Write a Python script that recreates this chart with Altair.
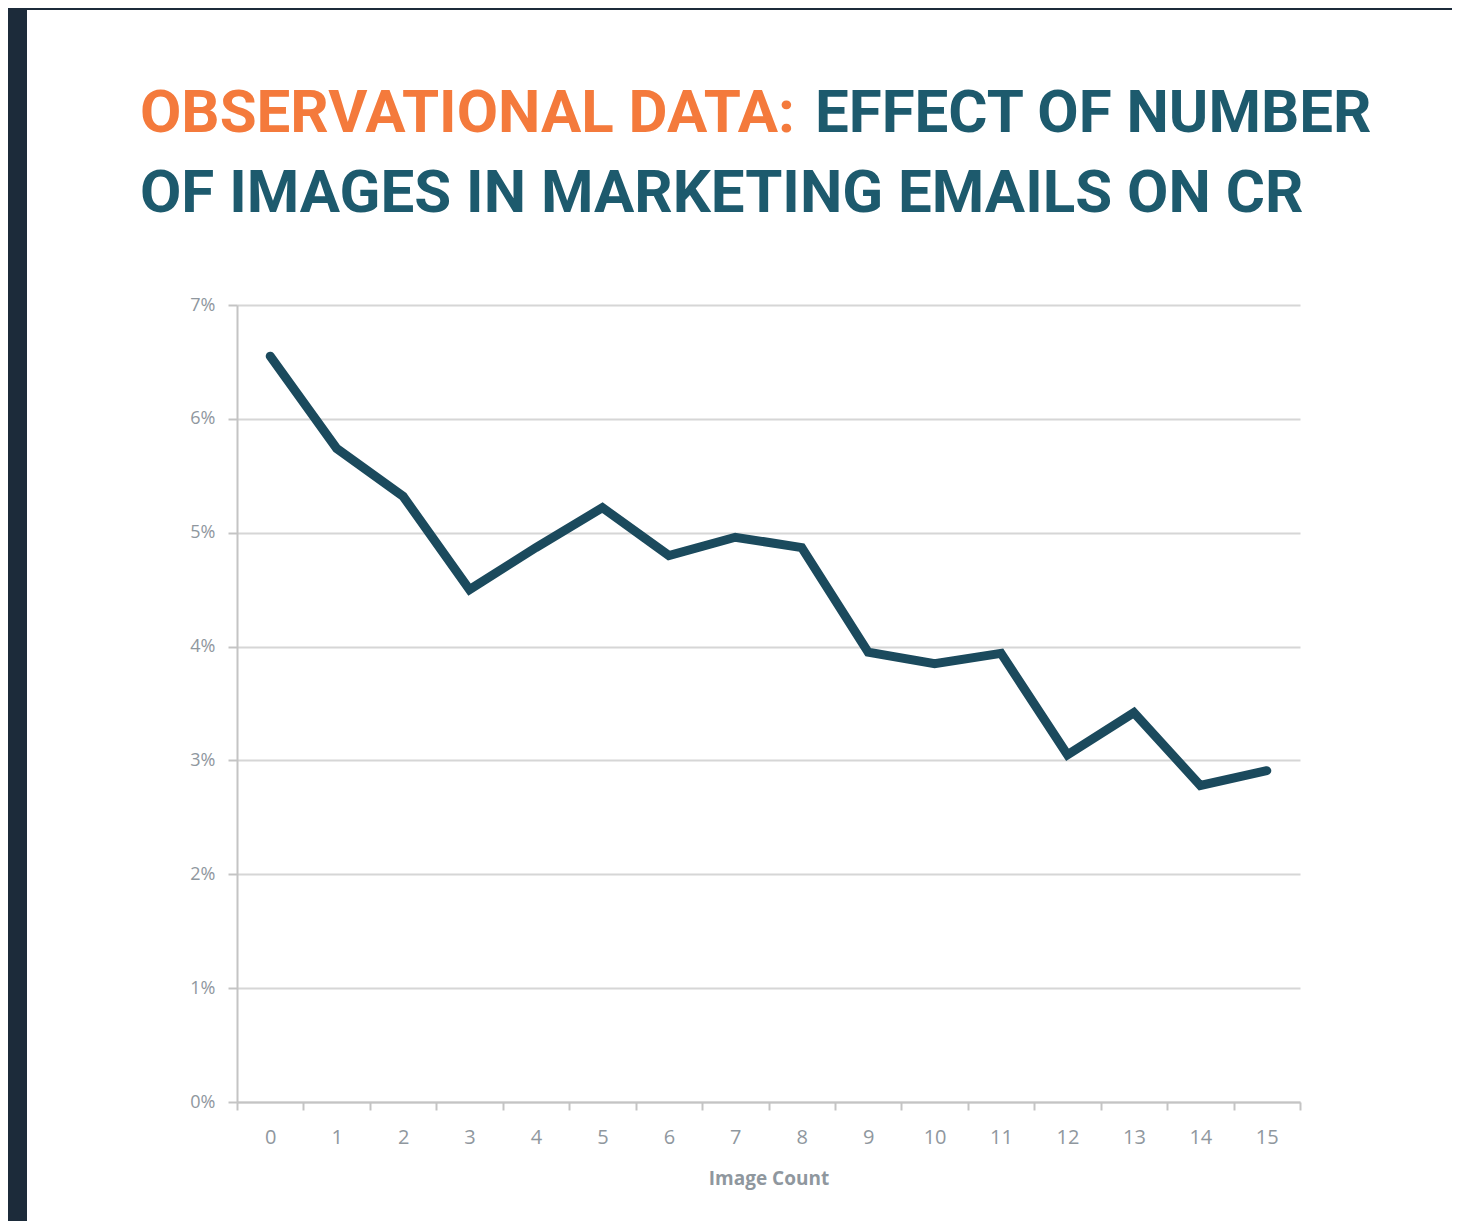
import altair as alt
import pandas as pd

# ---- data ----
image_count = list(range(16))
conversion_rate = [0.0655, 0.0574, 0.0532, 0.0450, 0.0487, 0.0522, 0.0480, 0.0496,
                   0.0487, 0.0395, 0.0385, 0.0394, 0.0305, 0.0342, 0.0278, 0.0291]
y_ticks = [0, 0.01, 0.02, 0.03, 0.04, 0.05, 0.06, 0.07]

title_orange = "OBSERVATIONAL DATA:"
title_teal_1 = "EFFECT OF NUMBER"
title_teal_2 = "OF IMAGES IN MARKETING EMAILS ON CR"
x_title = "Image Count"

ORANGE = "#F47A3C"
TEAL = "#1D5A6D"
LINE = "#1B4A5D"
DARK = "#1C2B3A"
GRID = "#D6D6D6"
LABEL = "#8F979E"

W, H = 1063, 797
PAD = {"left": 229, "top": 297, "right": 152, "bottom": 119}

df = pd.DataFrame({"n": image_count, "cr": conversion_rate})

x_enc = alt.X(
    "n:O",
    scale=alt.Scale(type="band", paddingInner=0, paddingOuter=0),
    axis=alt.Axis(
        title=x_title, labelAngle=0, tickBand="extent", tickSize=8, tickWidth=2,
        tickColor="#C4C4C4", domainColor="#C4C4C4", domainWidth=2, grid=False,
        labelFont="Open Sans", labelFontSize=20, labelColor=LABEL, labelPadding=17,
        titleFont="Open Sans", titleFontSize=19, titleFontWeight="bold",
        titleColor=LABEL, titlePadding=22,
    ),
)
y_enc = alt.Y(
    "cr:Q",
    scale=alt.Scale(domain=[0, 0.07], nice=False),
    axis=alt.Axis(
        title=None, values=y_ticks, format=".0%", grid=True, gridColor=GRID,
        gridWidth=2, tickSize=9, tickWidth=2, tickColor="#C4C4C4",
        domainColor="#C4C4C4", domainWidth=2, labelFont="Open Sans",
        labelFontSize=18, labelColor=LABEL, labelPadding=13,
    ),
)

line = alt.Chart(df).mark_line(
    color=LINE, strokeWidth=9, strokeCap="round", strokeJoin="miter"
).encode(x=x_enc, y=y_enc)

one = alt.Data(values=[{}])
left_strip = alt.Chart(one).mark_rect(color=DARK).encode(
    x=alt.value(-PAD["left"]), x2=alt.value(-210),
    y=alt.value(-PAD["top"]), y2=alt.value(H + PAD["bottom"]),
)
top_strip = alt.Chart(one).mark_rect(color=DARK).encode(
    x=alt.value(-PAD["left"]), x2=alt.value(W + PAD["right"]),
    y=alt.value(-PAD["top"]), y2=alt.value(-295),
)

tfont = dict(font="Roboto", fontWeight="bold", fontSize=60,
             baseline="alphabetic", align="left")
t1 = alt.Chart(one).mark_text(text=title_orange, color=ORANGE, **tfont).encode(
    x=alt.value(-97), y=alt.value(-173))
t2 = alt.Chart(one).mark_text(text=title_teal_1, color=TEAL, **tfont).encode(
    x=alt.value(578), y=alt.value(-173))
t3 = alt.Chart(one).mark_text(text=title_teal_2, color=TEAL, **tfont).encode(
    x=alt.value(-97), y=alt.value(-93))

chart = alt.layer(line, left_strip, top_strip, t1, t2, t3).properties(
    width=W, height=H, padding=PAD,
    autosize=alt.AutoSizeParams(type="none"), background="white",
).configure_view(stroke=None)

chart.save("out.html", embed_options={"renderer": "svg", "actions": False})
